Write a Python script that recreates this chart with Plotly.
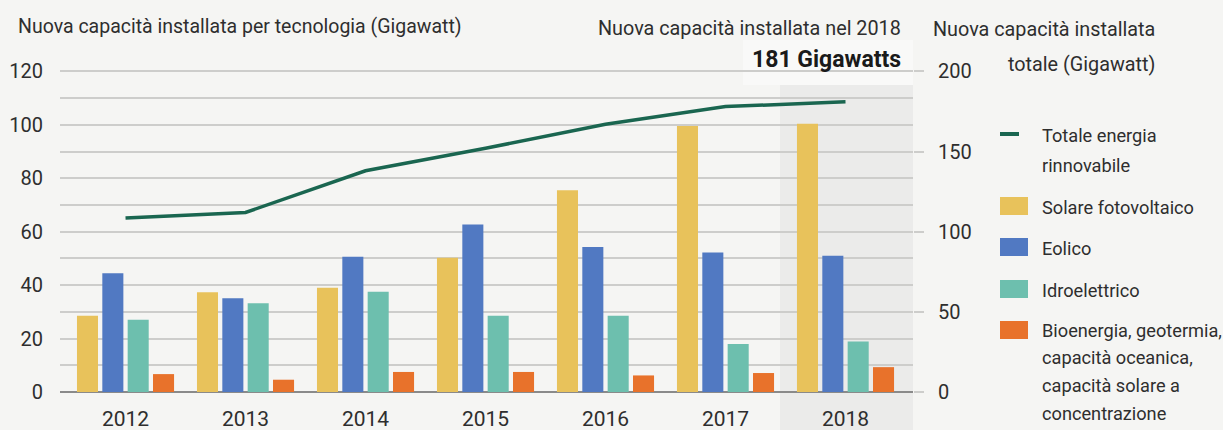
import plotly.graph_objects as go

# Installed capacity data (GW)
years = ["2012", "2013", "2014", "2015", "2016", "2017", "2018"]
solare_fv = [28.5, 37.3, 39.0, 50.2, 75.5, 99.5, 100.4]
eolico = [44.4, 35.1, 50.6, 62.7, 54.3, 52.2, 51.0]
idroelettrico = [27.0, 33.2, 37.5, 28.5, 28.5, 18.0, 18.9]
bio_altro = [6.7, 4.6, 7.5, 7.5, 6.2, 7.1, 9.3]
totale = [108.5, 112.0, 138.0, 152.0, 167.0, 178.0, 181.0]

left_ticks = [0, 20, 40, 60, 80, 100, 120]
right_ticks = [0, 50, 100, 150, 200]

COL_SOL = "#e8c25b"
COL_EOL = "#5179c2"
COL_IDRO = "#6dbfae"
COL_BIO = "#e8722b"
COL_TOT = "#1a6650"
TXT = "#2e2e2e"
GRID = "#cdcdcb"
BG = "#f5f5f3"
FONT = "Liberation Sans Narrow, Roboto, Arial"

W, H = 1223, 430
L, R, T, B = 60, 913, 70, 392

# the left (per-technology) and right (total) scales share the same pixels: 120 GW <-> 200 GW
Y_TOP = 120.5
Y2_TOP = Y_TOP * 200 / 120


def px(x):
    return (x - L) / (R - L)


def py(y):
    return (B - y) / (B - T)


fig = go.Figure()
for name, vals, col in [
    ("Solare fotovoltaico", solare_fv, COL_SOL),
    ("Eolico", eolico, COL_EOL),
    ("Idroelettrico", idroelettrico, COL_IDRO),
    ("Bioenergia, geotermia, capacità oceanica, capacità solare a concentrazione", bio_altro, COL_BIO),
]:
    fig.add_trace(go.Bar(x=years, y=vals, name=name, marker=dict(color=col, line=dict(width=0))))

fig.add_trace(go.Scatter(
    x=years, y=totale, yaxis="y2", mode="lines", name="Totale energia rinnovabile",
    line=dict(color=COL_TOT, width=3.5),
))

shapes = [
    # 2018 highlight band
    dict(type="rect", xref="paper", yref="paper", x0=px(780), x1=px(913), y0=py(430), y1=py(85),
         fillcolor="#ebebea", line=dict(width=0), layer="below"),
    # box behind the 2018 total label
    dict(type="rect", xref="paper", yref="paper", x0=px(743), x1=px(913), y0=py(85), y1=py(40),
         fillcolor="#f9f9f8", line=dict(width=0), layer="between"),
]


def label(text, x, y, xanchor="left", size=20, color=TXT, align="left"):
    return dict(text=text, x=px(x), y=py(y), xref="paper", yref="paper",
                xanchor=xanchor, yanchor="middle", align=align, showarrow=False,
                font=dict(size=size, color=color))


annotations = [
    label("Nuova capacità installata per tecnologia (Gigawatt)", 16, 27, size=19.5),
    label("Nuova capacità installata nel 2018", 903, 28, xanchor="right", size=19.8),
    label("<b>181 Gigawatts</b>", 903, 59, xanchor="right", size=23, color="#1a1a1a"),
    label("Nuova capacità installata", 1157, 30, xanchor="right", size=19.8),
    label("totale (Gigawatt)", 1157, 64, xanchor="right", size=19.8),
]

# Legend drawn as swatches and labels to the right of the chart
legend_items = [
    ("line", COL_TOT, ["Totale energia", "rinnovabile"], 134, 135),
    ("box", COL_SOL, ["Solare fotovoltaico"], 206, 207),
    ("box", COL_EOL, ["Eolico"], 247, 248),
    ("box", COL_IDRO, ["Idroelettrico"], 289, 290),
    ("box", COL_BIO, ["Bioenergia, geotermia,", "capacità oceanica,", "capacità solare a",
                      "concentrazione"], 330, 330),
]
for kind, col, lines, sy, ty in legend_items:
    if kind == "line":
        shapes.append(dict(type="line", xref="paper", yref="paper", x0=px(1000), x1=px(1019),
                           y0=py(sy), y1=py(sy), line=dict(color=col, width=4)))
        step = 30
    else:
        shapes.append(dict(type="rect", xref="paper", yref="paper", x0=px(1000), x1=px(1028),
                           y0=py(sy + 9), y1=py(sy - 9), fillcolor=col, line=dict(width=0)))
        step = 27.7
    for i, line_text in enumerate(lines):
        annotations.append(label(line_text, 1040, ty + i * step, size=18.2))

fig.update_layout(
    width=W, height=H,
    margin=dict(l=L, r=W - R, t=T, b=H - B, pad=0),
    paper_bgcolor=BG, plot_bgcolor="rgba(0,0,0,0)",
    font=dict(family=FONT, size=20, color=TXT),
    showlegend=False,
    barmode="group", bargap=0.155, bargroupgap=0.17,
    xaxis=dict(type="category", range=[-0.546, 6.5625], showgrid=False, ticks="",
               showline=False, zeroline=False, tickfont=dict(size=21, color=TXT),
               ticklabelstandoff=12, automargin=False),
    yaxis=dict(range=[0, Y_TOP], tickvals=left_ticks, showgrid=True, gridcolor=GRID, gridwidth=1.5,
               minor=dict(dtick=10, showgrid=True, gridcolor=GRID, gridwidth=1.5),
               zeroline=True, zerolinecolor="#8a8a8a", zerolinewidth=2, automargin=False,
               ticks="", tickfont=dict(size=20, color=TXT), ticklabelstandoff=16, fixedrange=True),
    yaxis2=dict(range=[0, Y2_TOP], tickvals=right_ticks, overlaying="y", side="right",
                showgrid=False, zeroline=False, ticks="outside", ticklen=10, tickwidth=1.5,
                tickcolor=GRID, tickfont=dict(size=20, color=TXT), ticklabelstandoff=10,
                automargin=False),
    shapes=shapes,
    annotations=annotations,
)

fig.write_html("out.html")
